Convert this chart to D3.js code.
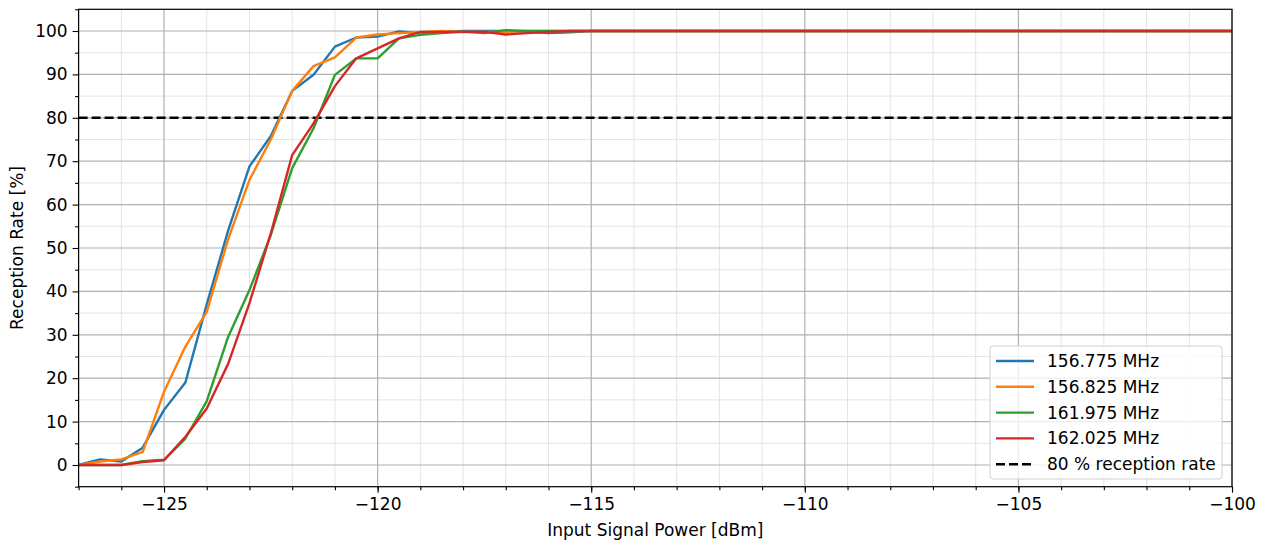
<!DOCTYPE html>
<html>
<head>
<meta charset="utf-8">
<script src="https://cdn.jsdelivr.net/npm/d3@7"></script>
<style>
  body { margin: 0; background: #fff; }
  text { font-family: "DejaVu Sans", sans-serif; }
</style>
</head>
<body>
<div id="chart"></div>
<script>
// input power steps, -127 .. -100 dBm in 0.5 dB
const power = d3.range(-127, -99.99, 0.5);

const labels = ["156.775 MHz", "156.825 MHz", "161.975 MHz", "162.025 MHz"];
const colors = ["#1f77b4", "#ff7f0e", "#2ca02c", "#d62728"];

const head156775 = [0, 1.3, 0.8, 4, 12.7, 19, 37, 54, 68.8, 75.8, 86.2, 89.9, 96.4, 98.5, 98.7, 99.9, 99.5, 99.8, 100, 100, 100, 99.8, 99.5, 99.7];
const head156825 = [0, 0.8, 1.3, 3, 16.9, 27.3, 35.3, 52, 65.7, 75, 86.2, 91.9, 93.9, 98.5, 99.2, 99.5, 99.7, 100, 99.8, 99.8, 99.8, 100, 100, 100];
const head161975 = [0, 0, 0, 0.9, 1.2, 6.1, 14.7, 29.5, 40.3, 53, 68.4, 77.6, 89.9, 93.7, 93.7, 98.3, 99.1, 99.5, 99.8, 99.5, 100.2, 100, 100, 100];
const head162025 = [0, 0, 0, 0.7, 1.1, 6.5, 13, 23.3, 37.3, 53.4, 71.4, 78.7, 87.3, 93.7, 96, 98.3, 99.8, 99.8, 99.8, 99.8, 99.2, 99.5, 99.8, 100];

const threshold = 80;

function fill(head) {
  return power.map((p, i) => (i < head.length ? head[i] : 100));
}
const series = [head156775, head156825, head161975, head162025].map(fill);

const W = 1265, H = 542;
const m = { left: 78.6, right: 1232, top: 9.3, bottom: 486.7 };
const FS = 17;

const svg = d3.select("#chart").append("svg")
  .attr("width", W).attr("height", H);

const x = d3.scaleLinear().domain([-127, -100]).range([m.left, m.right]);
const y = d3.scaleLinear().domain([-5, 105]).range([m.bottom, m.top]);

// grid
const g = svg.append("g");
g.selectAll(".xminor").data(d3.range(-127, -99, 1).filter(v => v % 5 !== 0))
  .enter().append("line")
  .attr("x1", d => x(d)).attr("x2", d => x(d))
  .attr("y1", m.top).attr("y2", m.bottom)
  .attr("stroke", "#e4e4e4").attr("stroke-width", 1);
g.selectAll(".yminor").data(d3.range(-5, 106, 10))
  .enter().append("line")
  .attr("x1", m.left).attr("x2", m.right)
  .attr("y1", d => y(d)).attr("y2", d => y(d))
  .attr("stroke", "#e4e4e4").attr("stroke-width", 1);
g.selectAll(".xmajor").data(d3.range(-125, -99, 5))
  .enter().append("line")
  .attr("x1", d => x(d)).attr("x2", d => x(d))
  .attr("y1", m.top).attr("y2", m.bottom)
  .attr("stroke", "#b0b0b0").attr("stroke-width", 1.2);
g.selectAll(".ymajor").data(d3.range(0, 101, 10))
  .enter().append("line")
  .attr("x1", m.left).attr("x2", m.right)
  .attr("y1", d => y(d)).attr("y2", d => y(d))
  .attr("stroke", "#b0b0b0").attr("stroke-width", 1.2);

// threshold line
svg.append("line")
  .attr("x1", m.left).attr("x2", m.right)
  .attr("y1", y(threshold)).attr("y2", y(threshold))
  .attr("stroke", "#000").attr("stroke-width", 2.4)
  .attr("stroke-dasharray", "9,4");

// curves
const line = d3.line().x((d, i) => x(power[i])).y(d => y(d));
svg.append("clipPath").attr("id", "clip").append("rect")
  .attr("x", m.left).attr("y", m.top)
  .attr("width", m.right - m.left).attr("height", m.bottom - m.top);
svg.append("g").attr("clip-path", "url(#clip)")
  .selectAll("path").data(series).enter().append("path")
  .attr("d", line)
  .attr("fill", "none")
  .attr("stroke", (d, i) => colors[i])
  .attr("stroke-width", 2.4)
  .attr("stroke-linejoin", "round");

// axes
svg.append("g").attr("transform", `translate(0,${m.bottom})`)
  .call(d3.axisBottom(x).tickValues(d3.range(-125, -99, 5)).tickSize(6).tickPadding(5).tickFormat(d3.format("d")));
svg.append("g").attr("transform", `translate(0,${m.bottom})`)
  .call(d3.axisBottom(x).tickValues(d3.range(-127, -99, 1)).tickSize(3.5).tickFormat(""));
svg.append("g").attr("transform", `translate(${m.left},0)`)
  .call(d3.axisLeft(y).tickValues(d3.range(0, 101, 10)).tickSize(6).tickPadding(5));
svg.append("g").attr("transform", `translate(${m.left},0)`)
  .call(d3.axisLeft(y).tickValues(d3.range(-5, 106, 10)).tickSize(3.5).tickFormat(""));
svg.selectAll(".tick text").attr("font-size", FS).attr("fill", "#000")
  .style("font-family", "DejaVu Sans");
svg.selectAll(".tick line").attr("stroke", "#000").attr("stroke-width", 1.1);
svg.selectAll(".domain").remove();

// frame
svg.append("rect")
  .attr("x", m.left).attr("y", m.top)
  .attr("width", m.right - m.left).attr("height", m.bottom - m.top)
  .attr("fill", "none").attr("stroke", "#000").attr("stroke-width", 1.2);

// axis labels
svg.append("text").attr("x", (m.left + m.right) / 2).attr("y", 536)
  .attr("text-anchor", "middle").attr("font-size", FS)
  .text("Input Signal Power [dBm]");
svg.append("text")
  .attr("transform", `translate(23,${(m.top + m.bottom) / 2}) rotate(-90)`)
  .attr("text-anchor", "middle").attr("font-size", FS)
  .text("Reception Rate [%]");

// legend
const lg = svg.append("g").attr("transform", "translate(990,346)");
lg.append("rect").attr("width", 232).attr("height", 133).attr("rx", 3)
  .attr("fill", "#fff").attr("fill-opacity", 0.8)
  .attr("stroke", "#d0d0d0");
const entries = labels.map((l, i) => ({ label: l, color: colors[i], dash: null }))
  .concat([{ label: `${threshold} % reception rate`, color: "#000", dash: "9,4" }]);
const le = lg.selectAll(".entry").data(entries).enter().append("g")
  .attr("transform", (d, i) => `translate(0,${15 + i * 25.8})`);
le.append("line").attr("x1", 6).attr("x2", 44)
  .attr("stroke", d => d.color).attr("stroke-width", 2.4)
  .attr("stroke-dasharray", d => d.dash);
le.append("text").attr("x", 57).attr("y", 6)
  .attr("font-size", FS).text(d => d.label);
</script>
</body>
</html>
